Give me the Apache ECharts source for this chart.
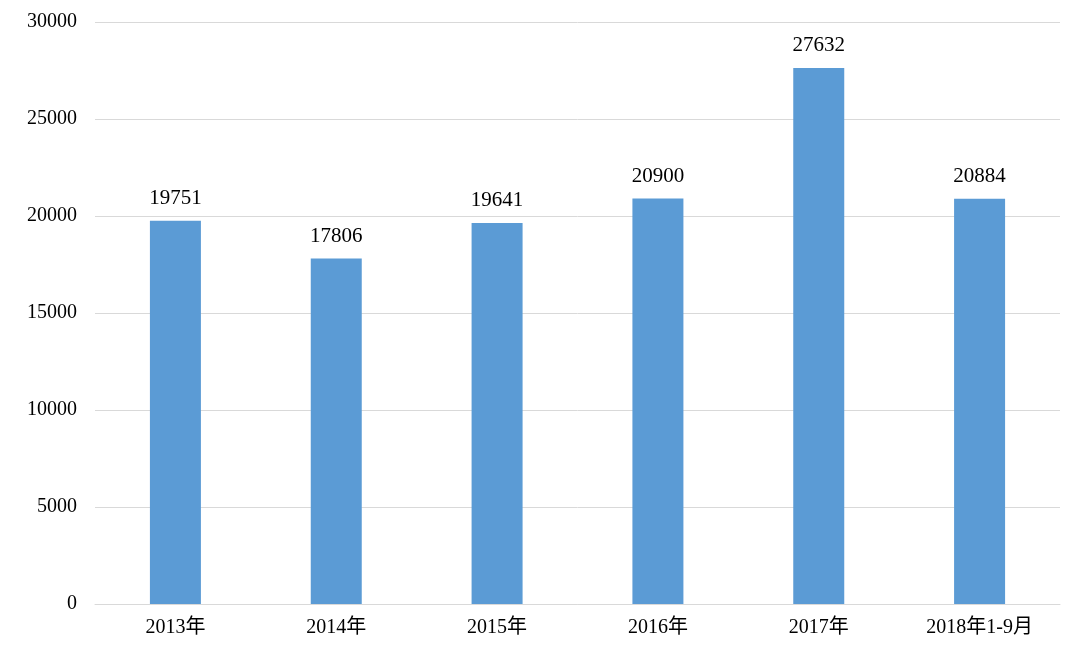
<!DOCTYPE html>
<html><head><meta charset="utf-8">
<script src="https://cdn.jsdelivr.net/npm/echarts@6/dist/echarts.min.js"></script>
<style>html,body{margin:0;background:#fff}#c{width:1080px;height:660px}</style>
</head><body><div id="c"></div>
<script>
const categories = ['2013年', '2014年', '2015年', '2016年', '2017年', '2018年1-9月'];
const values = [19751, 17806, 19641, 20900, 27632, 20884];
const font = '"Liberation Serif", "Noto Sans CJK SC", serif';

let chart = echarts.init(document.getElementById('c'));
chart.setOption({
    animation: false,
    grid: { left: 95, right: 20, top: 22, bottom: 56 },
    xAxis: {
        type: 'category',
        data: categories,
        axisLine: { lineStyle: { color: '#d9d9d9' } },
        axisTick: { show: false },
        axisLabel: { color: '#000', fontSize: 20, fontFamily: font, margin: 14 }
    },
    yAxis: {
        type: 'value',
        min: 0, max: 30000, interval: 5000,
        axisLine: { show: false },
        axisTick: { show: false },
        splitLine: { lineStyle: { color: '#d9d9d9' } },
        axisLabel: { color: '#000', fontSize: 20, fontFamily: font, margin: 18, formatter: v => String(v) }
    },
    series: [{
        type: 'bar',
        data: values,
        barWidth: 51,
        itemStyle: { color: '#5B9BD5' },
        label: { show: true, position: 'top', distance: 12, color: '#000', fontSize: 21, fontFamily: font }
    }]
});
</script></body></html>
